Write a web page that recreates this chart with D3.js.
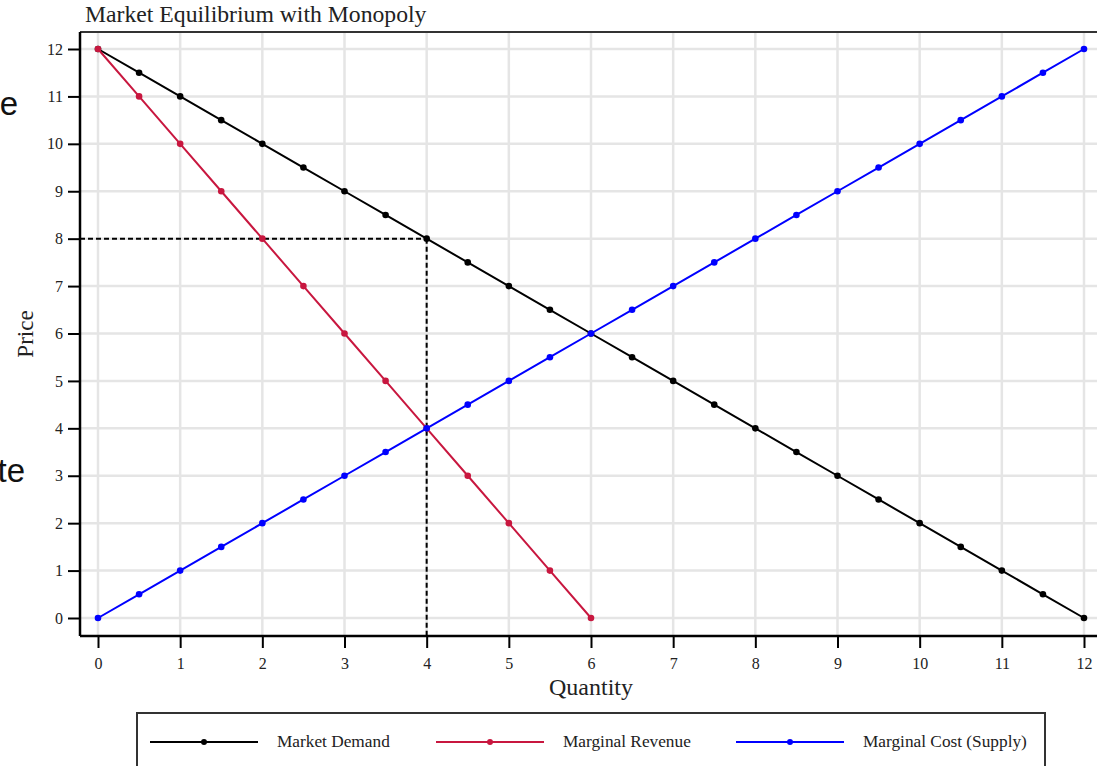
<!DOCTYPE html>
<html>
<head>
<meta charset="utf-8">
<script src="https://cdn.jsdelivr.net/npm/d3@7"></script>
<style>
  html, body { margin: 0; padding: 0; background: #fff; }
  svg { display: block; }
  text { font-family: "Liberation Serif", "Times New Roman", serif; }
</style>
</head>
<body>
<svg id="chart" width="1097" height="766"></svg>
<script>
// ---- data ----
const titleText = "Market Equilibrium with Monopoly";
const xTicks = [0,1,2,3,4,5,6,7,8,9,10,11,12];
const yTicks = [0,1,2,3,4,5,6,7,8,9,10,11,12];

const demandQ = [0,0.5,1,1.5,2,2.5,3,3.5,4,4.5,5,5.5,6,6.5,7,7.5,8,8.5,9,9.5,10,10.5,11,11.5,12];
const demandP = [12,11.5,11,10.5,10,9.5,9,8.5,8,7.5,7,6.5,6,5.5,5,4.5,4,3.5,3,2.5,2,1.5,1,0.5,0];

const mrQ = [0,0.5,1,1.5,2,2.5,3,3.5,4,4.5,5,5.5,6];
const mrP = [12,11,10,9,8,7,6,5,4,3,2,1,0];

const mcQ = [0,0.5,1,1.5,2,2.5,3,3.5,4,4.5,5,5.5,6,6.5,7,7.5,8,8.5,9,9.5,10,10.5,11,11.5,12];
const mcP = [0,0.5,1,1.5,2,2.5,3,3.5,4,4.5,5,5.5,6,6.5,7,7.5,8,8.5,9,9.5,10,10.5,11,11.5,12];

const equilibriumQ = [4];
const equilibriumP = [8];

const seriesNames = ["Market Demand", "Marginal Revenue", "Marginal Cost (Supply)"];
const seriesColors = ["#000000", "#c8173f", "#0000ff"];

// ---- layout ----
const svg = d3.select("#chart");
const frame = { left: 80, top: 32, right: 1100, bottom: 636 };
const x = d3.scaleLinear().domain([0, 12]).range([98, 1084]);
const y = d3.scaleLinear().domain([0, 12]).range([618, 49]);

// slide text fragments at left edge
svg.append("text").attr("x", 18).attr("y", 115).attr("text-anchor", "end")
  .style("font-family", "'Liberation Sans', Arial, sans-serif").style("font-size", "33px").attr("fill", "#111").text("e");
svg.append("text").attr("x", 25).attr("y", 482).attr("text-anchor", "end")
  .style("font-family", "'Liberation Sans', Arial, sans-serif").style("font-size", "33px").attr("fill", "#111").text("te");

// grid
const grid = svg.append("g");
grid.selectAll("line.gx").data(xTicks).join("line")
  .attr("x1", d => x(d)).attr("x2", d => x(d))
  .attr("y1", frame.top).attr("y2", frame.bottom)
  .attr("stroke", "#e5e5e5").attr("stroke-width", 2.5);
grid.selectAll("line.gy").data(yTicks).join("line")
  .attr("y1", d => y(d)).attr("y2", d => y(d))
  .attr("x1", frame.left).attr("x2", frame.right)
  .attr("stroke", "#e5e5e5").attr("stroke-width", 2.5);

// top frame line
svg.append("line").attr("x1", frame.left).attr("x2", frame.right)
  .attr("y1", frame.top).attr("y2", frame.top)
  .attr("stroke", "#333").attr("stroke-width", 2);

// axes
const yAxis = svg.append("g").attr("transform", `translate(${frame.left},0)`)
  .call(d3.axisLeft(y).tickValues(yTicks).tickSize(12).tickPadding(5).tickSizeOuter(0));
yAxis.attr("font-size", 16).attr("font-family", "'Liberation Serif', serif");
yAxis.select(".domain").attr("d", `M0,${frame.top}V${frame.bottom}`).attr("stroke", "#000").attr("stroke-width", 2.5);
yAxis.selectAll(".tick line").attr("stroke", "#000").attr("stroke-width", 2);
yAxis.selectAll(".tick text").attr("font-size", 16).attr("fill", "#222");

const xAxis = svg.append("g").attr("transform", `translate(0,${frame.bottom})`)
  .call(d3.axisBottom(x).tickValues(xTicks).tickSize(12).tickPadding(10).tickSizeOuter(0));
xAxis.attr("font-size", 16).attr("font-family", "'Liberation Serif', serif");
xAxis.select(".domain").attr("d", `M${frame.left},0H${frame.right}`).attr("stroke", "#000").attr("stroke-width", 2.5);
xAxis.selectAll(".tick line").attr("stroke", "#000").attr("stroke-width", 2);
xAxis.selectAll(".tick text").attr("font-size", 16).attr("fill", "#222");

// dashed equilibrium guides
const guides = svg.append("g");
guides.selectAll("line.h").data(equilibriumQ).join("line")
  .attr("x1", frame.left).attr("x2", (d) => x(d))
  .attr("y1", (d, i) => y(equilibriumP[i])).attr("y2", (d, i) => y(equilibriumP[i]))
  .attr("stroke", "#000").attr("stroke-width", 2).attr("stroke-dasharray", "5,3");
guides.selectAll("line.v").data(equilibriumQ).join("line")
  .attr("x1", d => x(d)).attr("x2", d => x(d))
  .attr("y1", (d, i) => y(equilibriumP[i])).attr("y2", frame.bottom)
  .attr("stroke", "#000").attr("stroke-width", 2).attr("stroke-dasharray", "5,3");

// series
const series = [
  { q: demandQ, p: demandP },
  { q: mrQ, p: mrP },
  { q: mcQ, p: mcP }
];
const line = d3.line().x(d => x(d[0])).y(d => y(d[1]));
series.forEach((s, i) => {
  const pts = s.q.map((q, j) => [q, s.p[j]]);
  svg.append("path").datum(pts).attr("d", line)
    .attr("fill", "none").attr("stroke", seriesColors[i]).attr("stroke-width", 2);
  svg.append("g").selectAll("circle").data(pts).join("circle")
    .attr("cx", d => x(d[0])).attr("cy", d => y(d[1])).attr("r", 3.3)
    .attr("fill", seriesColors[i]);
});

// title & axis labels
svg.append("text").attr("x", 85).attr("y", 22).style("font-size", "23.7px").attr("fill", "#222").text(titleText);
svg.append("text").attr("x", 591).attr("y", 695).attr("text-anchor", "middle")
  .style("font-size", "24px").attr("fill", "#222").text("Quantity");
svg.append("text").attr("transform", "translate(33,334) rotate(-90)").attr("text-anchor", "middle")
  .style("font-size", "23px").attr("fill", "#222").text("Price");

// legend
const lg = svg.append("g");
lg.append("rect").attr("x", 137).attr("y", 713).attr("width", 908).attr("height", 70)
  .attr("fill", "#fff").attr("stroke", "#333").attr("stroke-width", 2);
const legendX = [150, 436, 736];
seriesNames.forEach((name, i) => {
  const lx = legendX[i], ly = 742;
  lg.append("line").attr("x1", lx).attr("x2", lx + 108).attr("y1", ly).attr("y2", ly)
    .attr("stroke", seriesColors[i]).attr("stroke-width", 2);
  lg.append("circle").attr("cx", lx + 54).attr("cy", ly).attr("r", 3).attr("fill", seriesColors[i]);
  lg.append("text").attr("x", lx + 127).attr("y", ly + 5).style("font-size", "17.3px").attr("fill", "#222").text(name);
});
</script>
</body>
</html>
